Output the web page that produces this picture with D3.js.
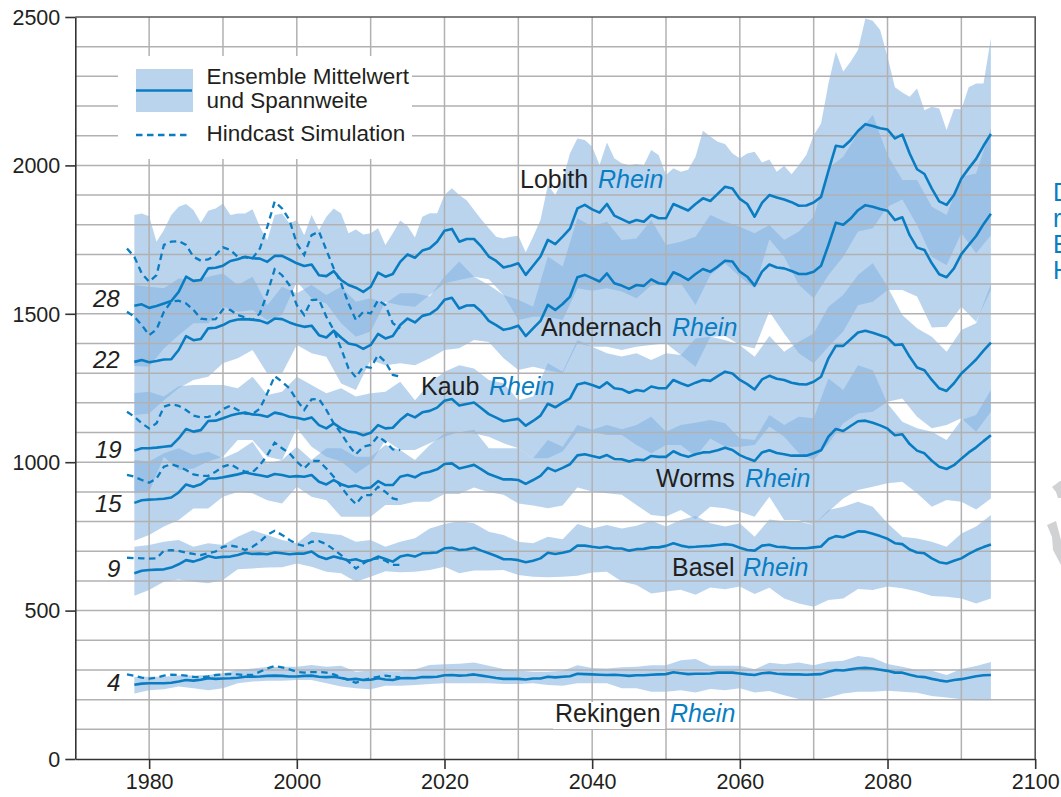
<!DOCTYPE html>
<html>
<head>
<meta charset="utf-8">
<script src="https://cdn.jsdelivr.net/npm/d3@7"></script>
<style>
  html, body { margin: 0; padding: 0; background: #fff; }
  text { font-family: "Liberation Sans", Arial, sans-serif; fill: #231f20; }
</style>
</head>
<body>
<div id="chart"></div>
<script>
// yearly ensemble means, 1978-2094
const meanStart = 1978
const lobithMean = [1527,1532,1520,1526,1535,1543,1574,1625,1611,1614,1653,1655,
  1662,1678,1684,1692,1687,1686,1675,1695,1695,1683,
  1670,1661,1666,1630,1627,1644,1614,1597,1588,1574,
  1591,1639,1625,1634,1675,1700,1689,1713,1721,1743,
  1780,1786,1743,1752,1752,1726,1693,1678,1656,1662,
  1670,1631,1662,1693,1749,1735,1760,1787,1855,1867,
  1852,1841,1870,1831,1819,1807,1816,1810,1833,1822,
  1822,1870,1859,1848,1870,1889,1880,1904,1928,1922,
  1887,1870,1827,1874,1900,1892,1885,1876,1864,1865,
  1875,1894,1982,2066,2062,2085,2116,2139,2133,2125,
  2121,2091,2104,2040,1987,1971,1922,1879,1867,1900,
  1956,1990,2022,2066,2106]
const andernachMean = [1338,1344,1337,1341,1346,1347,1378,1425,1411,1415,1451,1453,
  1462,1475,1481,1482,1480,1477,1468,1484,1482,1471,
  1462,1456,1460,1428,1420,1443,1420,1400,1395,1382,
  1395,1432,1417,1425,1462,1484,1471,1493,1499,1516,
  1547,1554,1518,1528,1529,1507,1476,1462,1446,1451,
  1460,1425,1451,1476,1530,1513,1533,1558,1623,1631,
  1620,1609,1636,1603,1595,1584,1597,1594,1616,1603,
  1600,1640,1629,1614,1634,1651,1642,1659,1679,1676,
  1642,1625,1595,1642,1666,1656,1653,1644,1634,1634,
  1642,1662,1732,1807,1800,1821,1849,1866,1861,1853,
  1847,1816,1825,1765,1723,1715,1670,1633,1623,1653,
  1701,1732,1762,1802,1837]
const kaubMean = [1039,1047,1047,1049,1052,1055,1080,1112,1103,1108,1139,1140,
  1148,1157,1163,1167,1161,1159,1153,1167,1162,1153,
  1150,1144,1151,1125,1114,1131,1114,1103,1100,1091,
  1099,1125,1114,1116,1142,1162,1151,1168,1173,1184,
  1207,1213,1191,1196,1201,1182,1162,1150,1138,1142,
  1146,1123,1139,1157,1197,1185,1201,1215,1262,1268,
  1260,1251,1269,1249,1246,1234,1243,1239,1255,1249,
  1249,1277,1266,1257,1268,1277,1274,1290,1305,1299,
  1277,1263,1245,1279,1291,1281,1277,1268,1263,1262,
  1271,1288,1350,1392,1392,1414,1437,1443,1436,1428,
  1419,1395,1397,1355,1319,1310,1277,1249,1240,1266,
  1299,1322,1346,1376,1403]
const wormsMean = [863,872,874,875,877,881,898,925,917,926,945,945,
  949,954,959,965,960,956,951,960,957,951,
  953,951,957,934,925,940,926,917,921,912,
  915,936,923,923,951,957,949,963,968,976,
  994,996,979,985,991,976,960,951,942,942,
  940,927,940,954,981,970,981,993,1023,1027,
  1021,1015,1024,1011,1010,1002,1009,1007,1021,1018,
  1018,1037,1025,1018,1027,1033,1034,1040,1049,1041,
  1024,1013,1004,1033,1040,1031,1027,1022,1022,1022,
  1030,1040,1086,1112,1105,1122,1138,1140,1133,1124,
  1113,1091,1094,1061,1039,1030,1005,985,977,990,
  1012,1033,1050,1071,1091]
const baselMean = [626,634,637,638,639,645,656,670,665,673,684,678,
  681,682,687,695,691,692,690,696,693,690,
  692,692,699,682,674,682,676,669,673,665,
  670,682,674,665,682,687,682,693,694,696,
  710,712,704,706,712,702,693,684,673,673,
  670,663,668,676,695,691,695,701,719,719,
  715,712,715,709,709,702,707,708,713,713,
  718,727,719,714,715,717,718,721,724,721,
  712,704,702,719,722,715,714,710,710,710,
  713,716,741,751,747,757,767,766,759,751,
  742,727,724,706,696,693,676,663,659,668,
  676,691,704,714,723]
const rekingenMean = [250,254,255,255,255,257,261,266,264,267,272,270,
  271,272,274,277,277,278,280,281,280,278,
  278,280,281,277,276,277,273,268,270,266,
  267,272,268,266,272,273,272,276,276,277,
  282,283,281,282,285,281,277,273,270,270,
  270,268,271,271,277,275,277,279,287,286,
  285,284,283,284,282,280,282,282,284,285,
  286,292,289,286,287,287,288,291,291,291,
  288,285,283,289,291,287,286,285,285,284,
  285,286,294,300,298,302,306,307,305,301,
  297,291,291,284,278,276,270,265,261,266,
  269,274,279,282,283]

// hindcast runs, 1977-2014
const hindStart = 1977
const lobithHind = [1720,1692,1636,1608,1630,1732,1743,1745,1732,1692,1679,1683,1698,
  1724,1715,1692,1690,1687,1720,1793,1878,1855,1816,
  1737,1698,1765,1777,1715,1653,1602,1535,1479,1507,
  1501,1546,1529,1468,1451]
const andernachHind = [1507,1490,1462,1428,1447,1507,1541,1544,1535,1513,1484,1481,1482,
  1515,1513,1496,1488,1479,1501,1569,1650,1630,1597,
  1529,1496,1546,1548,1490,1445,1383,1316,1286,1322,
  1318,1361,1338,1294,1288]
const kaubHind = [1170,1153,1131,1114,1131,1187,1195,1190,1176,1157,1151,1153,1159,
  1179,1190,1176,1164,1162,1181,1232,1290,1271,1249,
  1209,1176,1212,1213,1176,1131,1097,1058,1027,1052,
  1058,1088,1069,1043,1041]
const wormsHind = [957,951,940,931,945,985,993,985,974,959,954,954,968,
  985,993,979,968,966,990,1024,1066,1047,1030,
  1002,979,1004,1004,979,951,917,884,859,889,
  889,917,900,878,872]
const baselHind = [678,677,676,675,676,702,704,701,695,691,687,693,699,
  715,719,715,704,715,732,755,769,755,738,
  724,718,732,734,724,706,687,665,642,659,
  673,676,668,654,654]
const rekingenHind = [285,280,274,271,274,281,284,283,281,277,275,278,283,
  285,286,285,283,283,294,305,313,309,302,
  294,291,293,293,291,285,275,266,257,266,
  272,277,281,277,275]

// ensemble range: upper Lobith edge is yearly, the others every second year
const yearlyYears = d3.range(1978, 2095)
const bandYears = d3.range(1978, 2095, 2)
const lobithHi = [1833,1838,1829,1743,1782,1833,1861,1870,1850,1807,1847,1855,
  1872,1833,1838,1838,1852,1793,1748,1833,1838,1805,
  1816,1765,1833,1782,1827,1855,1838,1771,1784,1767,
  1771,1788,1732,1771,1814,1796,1757,1827,1839,1839,
  1900,1923,1900,1883,1850,1818,1788,1760,1754,1760,
  1763,1707,1760,1816,1934,1900,1951,2041,2091,2086,
  2063,2001,2077,2024,2007,2001,2005,2001,2052,2035,
  1968,1990,1979,1985,2029,2117,2097,2080,2072,2040,
  2024,2040,2046,2010,2020,1979,1999,1970,2001,2035,
  2102,2141,2276,2383,2316,2349,2389,2495,2487,2456,
  2366,2263,2246,2231,2259,2186,2198,2192,2119,2190,
  2189,2263,2276,2276,2428]
const lobithLo = [1324,1322,1383,1428,1468,1468,1524,1507,1513,1479,1496,
  1608,1552,1535,1468,1423,1440,1540,1529,1524,1563,
  1603,1614,1625,1616,1563,1479,1490,1490,1479,1586,
  1578,1586,1575,1552,1595,1603,1603,1530,1631,1670,
  1625,1586,1751,1692,1597,1552,1631,1692,1777,1788,
  1861,1885,1799,1692,1664,1771,1704,1765]
const andernachHi = [1597,1591,1586,1619,1614,1625,1636,1597,1625,1529,1591,
  1569,1597,1563,1591,1541,1552,1535,1569,1569,1558,
  1625,1676,1625,1597,1563,1547,1524,1693,1659,1822,
  1794,1810,1749,1754,1816,1732,1743,1760,1833,1810,
  1793,1771,1799,1749,1777,1827,1990,2029,2108,2170,
  2035,1951,1951,1861,1833,1962,1973,2125]
const andernachLo = [1159,1164,1209,1249,1277,1288,1333,1350,1378,1299,1299,
  1395,1367,1355,1265,1243,1344,1327,1333,1327,1350,
  1378,1384,1412,1405,1350,1311,1322,1310,1300,1401,
  1389,1389,1378,1389,1395,1401,1361,1322,1423,1425,
  1395,1383,1507,1434,1367,1333,1389,1440,1529,1541,
  1580,1580,1558,1454,1456,1524,1473,1580]
const kaubHi = [1232,1237,1221,1256,1260,1260,1260,1249,1288,1226,1237,
  1288,1260,1232,1249,1221,1232,1237,1271,1209,1266,
  1305,1327,1316,1277,1266,1209,1221,1333,1305,1412,
  1389,1367,1356,1367,1344,1367,1361,1417,1423,1412,
  1395,1355,1425,1372,1406,1434,1524,1563,1631,1670,
  1591,1496,1451,1423,1372,1445,1468,1600]
const kaubLo = [895,900,1018,974,979,1002,1018,1075,1075,1018,1007,
  1114,1052,1018,1002,962,996,1075,1041,1041,1064,
  1086,1103,1097,1086,1064,1047,1013,1013,1036,1103,
  1103,1092,1092,1058,1030,1058,1058,1019,1080,1052,
  1052,1058,1120,1086,1030,1007,1063,1131,1164,1170,
  1204,1215,1153,1114,1125,1148,1103,1170]
const wormsHi = [1007,1002,1030,1047,1024,1035,1013,1035,1069,996,1007,
  1052,1007,1047,1047,1018,1018,1058,1041,1007,1058,
  1097,1100,1109,1047,1047,1047,1013,1075,1052,1125,
  1109,1125,1111,1125,1153,1103,1125,1133,1142,1131,
  1080,1075,1159,1125,1153,1148,1282,1243,1327,1310,
  1198,1136,1114,1103,1075,1142,1159,1243]
const wormsLo = [735,755,783,805,844,844,884,900,895,872,861,
  917,884,872,816,816,816,856,856,867,867,
  893,893,915,899,890,861,854,845,854,915,
  901,895,890,856,822,817,839,808,850,845,
  833,816,884,805,805,788,833,878,906,917,
  929,934,895,850,873,867,841,878]
const baselHi = [715,721,732,738,715,727,721,749,771,755,738,
  727,766,760,755,732,738,715,732,744,777,
  792,801,794,766,755,732,727,749,740,792,
  777,788,777,786,803,783,805,819,794,783,
  794,749,807,800,800,788,839,850,867,850,
  794,749,743,732,715,760,783,822]
const baselLo = [550,569,597,605,597,592,603,639,642,645,646,
  659,648,631,626,597,614,633,629,631,637,
  648,626,635,635,637,620,614,612,614,617,
  628,631,598,586,558,564,570,553,578,572,
  581,556,577,541,524,513,536,541,573,569,
  581,575,564,549,547,541,524,541]
const rekingenHi = [276,277,277,281,281,283,289,300,305,310,311,
  311,317,311,314,294,298,296,296,302,317,
  319,321,325,314,303,298,294,294,297,316,
  307,305,309,311,316,316,333,337,314,314,
  314,302,324,319,325,316,328,331,347,341,
  320,311,300,297,283,303,313,327]
const rekingenLo = [221,232,235,244,238,232,238,255,261,264,264,
  266,266,255,244,238,235,247,247,249,253,
  255,255,255,255,253,253,255,249,247,255,
  255,255,238,238,227,227,232,224,236,232,
  238,224,229,215,202,197,207,221,227,227,
  230,227,223,212,207,201,198,198]

const bands = [
  [lobithHi, lobithLo, yearlyYears], [andernachHi, andernachLo, bandYears], [kaubHi, kaubLo, bandYears],
  [wormsHi, wormsLo, bandYears], [baselHi, baselLo, bandYears], [rekingenHi, rekingenLo, bandYears]
]
const means = [lobithMean, andernachMean, kaubMean, wormsMean, baselMean, rekingenMean]
const hinds = [lobithHind, andernachHind, kaubHind, wormsHind, baselHind, rekingenHind]

const stations = ["Lobith", "Andernach", "Kaub", "Worms", "Basel", "Rekingen"]
const labelPos = [[520, 188, 598], [541, 336, 672], [421, 395, 489], [656, 487, 745], [672, 576, 743], [555, 722, 670]]
const areaLabels = ["28", "22", "19", "15", "9", "4"]
const areaLabelPos = [[93, 307], [93, 368], [95, 458], [95, 512], [107, 577], [107, 691]]

const blue = "#0a7dc2"
const bandFill = "#82b1e0"
const gridCol = "#b1b1b3"

const svg = d3.select("#chart").append("svg")
    .attr("width", 1061)
    .attr("height", 797)
    .style("display", "block")

const x = d3.scaleLinear().domain([1970, 2100]).range([75.3, 1035.2])
const y = d3.scaleLinear().domain([0, 2500]).range([759, 17])

// ensemble ranges, upper edge forward then lower edge back
const edge = d3.line().x(d => x(d[0])).y(d => y(d[1]))

bands.forEach(b => {
    const upper = b[2].map((yr, i) => [yr, b[0][i]])
    const lower = bandYears.map((yr, i) => [yr, b[1][i]]).reverse()
    svg.append("path")
        .attr("d", edge(upper.concat(lower)) + "Z")
        .attr("fill", bandFill)
        .attr("fill-opacity", 0.55)
})

// grid on top of the ranges
svg.append("g").selectAll("line")
    .data(d3.range(1980, 2100, 10))
    .join("line")
    .attr("x1", d => x(d)).attr("x2", d => x(d))
    .attr("y1", y(2500)).attr("y2", y(0))
    .attr("stroke", gridCol).attr("stroke-width", 1.5)
svg.append("g").selectAll("line")
    .data(d3.range(100, 2500, 100))
    .join("line")
    .attr("x1", x(1970)).attr("x2", x(2100))
    .attr("y1", d => y(d)).attr("y2", d => y(d))
    .attr("stroke", gridCol).attr("stroke-width", 1.5)

// white behind legend and the Rekingen label
svg.append("rect").attr("x", 118).attr("y", 56).attr("width", 294).attr("height", 103).attr("fill", "#fff")
svg.append("rect").attr("x", 553).attr("y", 702).attr("width", 112).attr("height", 27).attr("fill", "#fff")

// frame
svg.append("path")
    .attr("d", `M${x(1970)},${y(2500)}H${x(2100)}V${y(0)}`)
    .attr("fill", "none").attr("stroke", "#58585a").attr("stroke-width", 1.6)

// axes
const xAxis = svg.append("g")
    .attr("transform", `translate(0,${y(0)})`)
    .call(d3.axisBottom(x).tickValues(d3.range(1980, 2101, 20)).tickFormat(d3.format("d")).tickSize(10).tickSizeOuter(0))
const yAxis = svg.append("g")
    .attr("transform", `translate(${x(1970)},0)`)
    .call(d3.axisLeft(y).tickValues(d3.range(0, 2501, 500)).tickFormat(d3.format("d")).tickSize(10).tickSizeOuter(0))
;[xAxis, yAxis].forEach(a => {
    a.selectAll("path, line").attr("stroke", "#333").attr("stroke-width", 1.6)
    a.selectAll("text").style("font-size", "21.5px").style("font-family", '"Liberation Sans", Arial, sans-serif').attr("fill", "#231f20")
})
xAxis.selectAll("text").attr("dy", "0.95em").attr("y", 10)
yAxis.selectAll("text").attr("x", -15).attr("dy", "0.34em")

// means and hindcasts
const meanLine = d3.line().x((d, i) => x(meanStart + i)).y(d => y(d))
const hindLine = d3.line().x((d, i) => x(hindStart + i)).y(d => y(d))

hinds.forEach(h => {
    svg.append("path").attr("d", hindLine(h))
        .attr("fill", "none").attr("stroke", blue)
        .attr("stroke-width", 2.3).attr("stroke-dasharray", "6.5 4.5")
})
means.forEach(m => {
    svg.append("path").attr("d", meanLine(m))
        .attr("fill", "none").attr("stroke", blue)
        .attr("stroke-width", 2.6).attr("stroke-linejoin", "round")
})

// station labels
stations.forEach((s, i) => {
    const p = labelPos[i]
    svg.append("text").attr("x", p[0]).attr("y", p[1]).style("font-size", "25px").text(s)
    svg.append("text").attr("x", p[2]).attr("y", p[1]).style("font-size", "25px")
        .style("font-style", "italic").style("fill", blue).text("Rhein")
})
areaLabels.forEach((s, i) => {
    svg.append("text").attr("x", areaLabelPos[i][0]).attr("y", areaLabelPos[i][1])
        .style("font-size", "24px").style("font-style", "italic").text(s)
})

// legend
svg.append("rect").attr("x", 136).attr("y", 69).attr("width", 57).attr("height", 43)
    .attr("fill", bandFill).attr("fill-opacity", 0.55)
svg.append("line").attr("x1", 136).attr("x2", 192).attr("y1", 90.5).attr("y2", 90.5)
    .attr("stroke", blue).attr("stroke-width", 2.6)
svg.append("line").attr("x1", 136).attr("x2", 191).attr("y1", 135).attr("y2", 135)
    .attr("stroke", blue).attr("stroke-width", 2.3).attr("stroke-dasharray", "6.5 4.5")
const legendText = [["Ensemble Mittelwert", 84], ["und Spannweite", 108], ["Hindcast Simulation", 141]]
legendText.forEach(t => {
    svg.append("text").attr("x", 206.5).attr("y", t[1]).style("font-size", "22.5px").text(t[0])
})

// neighbouring page content cut off at the right edge
const sideText = [["D", 200.5], ["r", 226.5], ["E", 252.5], ["H", 279]]
sideText.forEach(t => {
    svg.append("text").attr("x", 1053).attr("y", t[1]).style("font-size", "25px").style("fill", blue).text(t[0])
})
svg.append("path").attr("fill", "#d1d2d4")
    .attr("d", "M1052,487L1060,481L1061,481V498H1058L1056,492Z M1047,525L1056,521L1061,540V565L1053,550L1052,537Z")
</script>
</body>
</html>
